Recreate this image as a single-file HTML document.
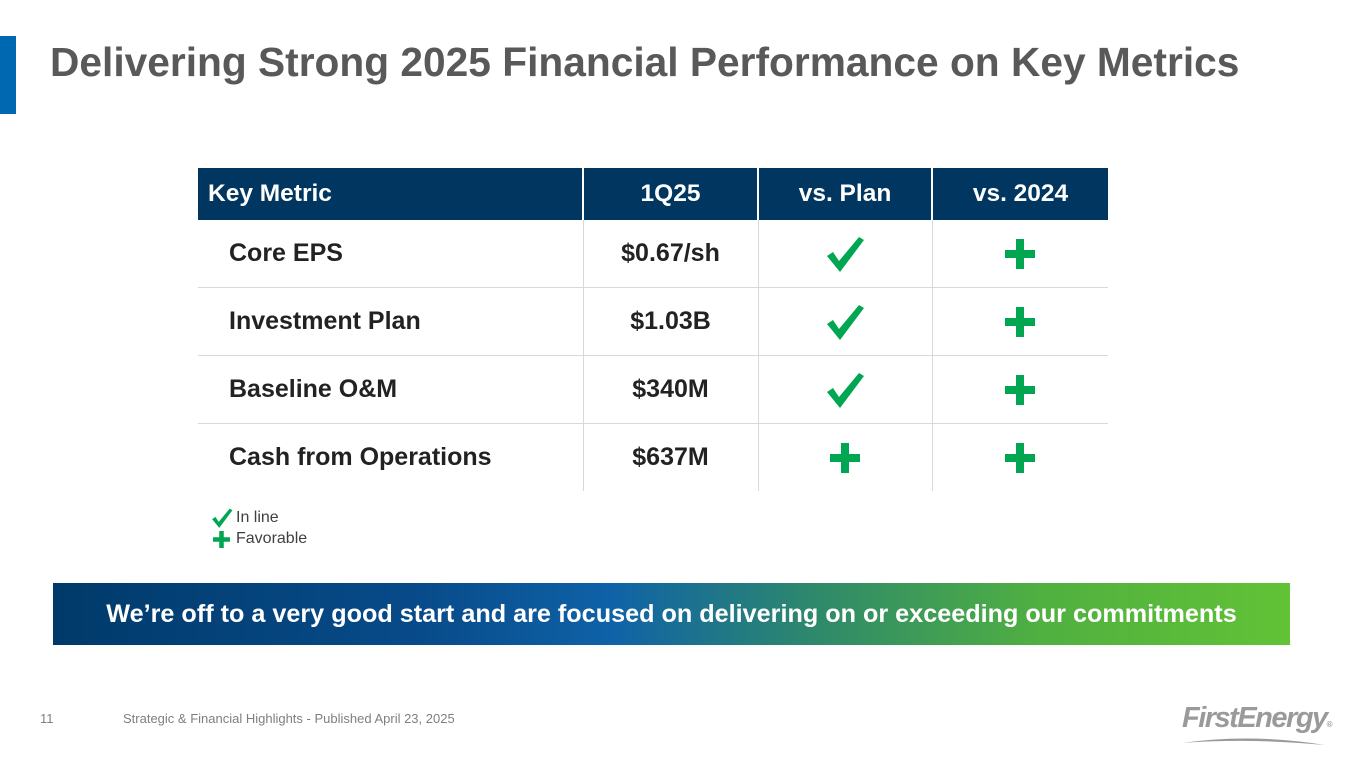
<!DOCTYPE html>
<html><head><meta charset="utf-8"><style>
body{margin:0;width:1365px;height:768px;background:#fff;position:relative;overflow:hidden;font-family:"Liberation Sans",Arial,sans-serif}
.abs{position:absolute}
table{border-collapse:collapse;position:absolute;left:198px;top:168px;width:910px}
th{background:#00365f;color:#fff;font-size:24.5px;font-weight:bold;height:52px;padding:0;border-left:2px solid #fff}
th:first-child{text-align:left;padding-left:10px;border-left:none}
td{height:67px;border-top:1.5px solid #d9d9d9;border-left:1.5px solid #d9d9d9;font-size:25px;font-weight:bold;color:#222;text-align:center;padding:0}
tr:nth-child(2) td{border-top:none}
td:first-child{border-left:none;text-align:left;padding-left:31px}
svg{display:block;margin:auto}
</style></head><body>
<div class="abs" style="left:0;top:36px;width:16px;height:78px;background:#0068b1"></div>
<div class="abs" style="left:50px;top:39px;font-size:40.7px;font-weight:bold;color:#595959;white-space:nowrap">Delivering Strong 2025 Financial Performance on Key Metrics</div>
<table>
<colgroup><col style="width:385px"><col style="width:175px"><col style="width:174px"><col style="width:176px"></colgroup>
<tr><th>Key Metric</th><th>1Q25</th><th>vs. Plan</th><th>vs. 2024</th></tr>
<tr><td>Core EPS</td><td>$0.67/sh</td><td class="c"></td><td class="p"></td></tr>
<tr><td>Investment Plan</td><td>$1.03B</td><td class="c"></td><td class="p"></td></tr>
<tr><td>Baseline O&amp;M</td><td>$340M</td><td class="c"></td><td class="p"></td></tr>
<tr><td>Cash from Operations</td><td>$637M</td><td class="p"></td><td class="p"></td></tr>
</table>
<div class="abs" style="left:211px;top:507px;font-size:16px;color:#404040;display:flex;align-items:center"><svg width="22" height="22" viewBox="0 0 40 40" style="margin:0 3px 0 0"><path d="M2 22 L8 18 L14 27 L34 3 L39 6 L15 38 Z" fill="#00a651"/></svg>In line</div>
<div class="abs" style="left:211px;top:530px;font-size:16px;color:#404040;display:flex;align-items:center"><svg width="17" height="17" viewBox="0 0 30 30" style="margin:0 6px 0 2px"><path d="M11 0h8v11h11v8H19v11h-8V19H0v-8h11z" fill="#00a651"/></svg>Favorable</div>
<div class="abs" style="left:53px;top:583px;width:1237px;height:62px;background:linear-gradient(90deg,#003a6a 0%,#084b8a 30%,#0f62a8 45%,#2f8a6a 62%,#50b040 80%,#62c236 100%);color:#fff;font-size:25.2px;font-weight:bold;display:flex;align-items:center;justify-content:center;white-space:nowrap">We’re off to a very good start and are focused on delivering on or exceeding our commitments</div>
<div class="abs" style="left:40px;top:711px;font-size:13px;color:#7f7f7f">11</div>
<div class="abs" style="left:123px;top:711px;font-size:13px;color:#7f7f7f">Strategic &amp; Financial Highlights - Published April 23, 2025</div>
<div class="abs" style="left:1182px;top:702px;font-size:29px;font-weight:bold;font-style:italic;color:#9a9a9a;letter-spacing:-1.5px">FirstEnergy<span style="font-size:8px;font-style:normal">®</span></div>
<svg class="abs" style="left:1180px;top:735px" width="150" height="12"><path d="M2 8 Q70 -2 145 10 Q70 3 2 8Z" fill="#9a9a9a"/></svg>
<script>
document.querySelectorAll('td.c').forEach(function(td){
td.innerHTML='<svg width="40" height="40" viewBox="0 0 40 40"><path d="M2 22 L8 18 L14 27 L34 3 L39 6 L15 38 Z" fill="#00a651"/></svg>';


});
document.querySelectorAll('td.p').forEach(function(td){
td.innerHTML='<svg width="30" height="30" viewBox="0 0 30 30"><path d="M11 0h8v11h11v8H19v11h-8V19H0v-8h11z" fill="#00a651"/></svg>';


});
</script>
</body></html>
